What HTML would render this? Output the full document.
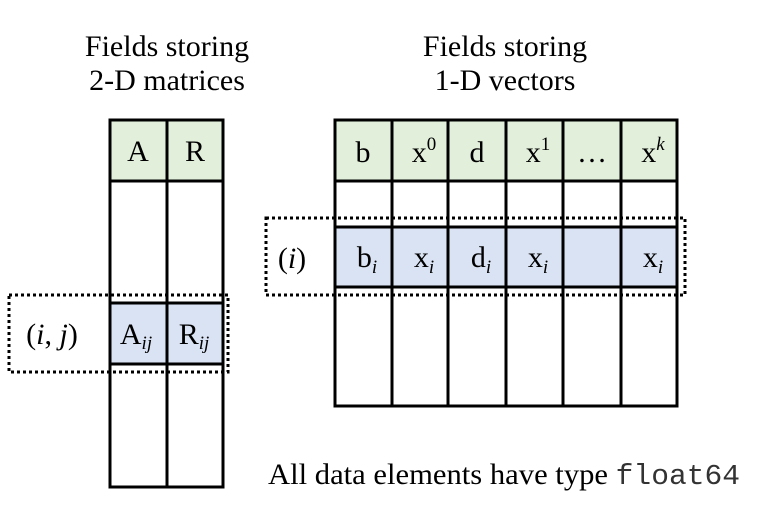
<!DOCTYPE html>
<html><head><style>body{margin:0;background:#fff}</style></head><body>
<svg width="771" height="522" xmlns="http://www.w3.org/2000/svg" font-family="Liberation Serif, serif" font-size="30">
<rect width="771" height="522" fill="#fff"/>
<text x="167" y="56" text-anchor="middle">Fields storing</text>
<text x="167" y="90" text-anchor="middle">2-D matrices</text>
<text x="505" y="56" text-anchor="middle">Fields storing</text>
<text x="505" y="90" text-anchor="middle">1-D vectors</text>
<rect x="110" y="120" width="113" height="61" fill="#e2efda"/>
<rect x="110" y="303" width="113" height="61" fill="#dae3f3"/>
<g stroke="#000" stroke-width="3" fill="none">
<rect x="110" y="120" width="113" height="367"/>
<line x1="167" y1="120" x2="167" y2="487"/>
<line x1="110" y1="181" x2="223" y2="181"/>
<line x1="110" y1="303" x2="223" y2="303"/>
<line x1="110" y1="364" x2="223" y2="364"/>
</g>
<rect x="9" y="295" width="219" height="77" fill="none" stroke="#000" stroke-width="3" stroke-dasharray="3,3"/>
<text x="138" y="161" text-anchor="middle">A</text>
<text x="195" y="161" text-anchor="middle">R</text>
<text x="136" y="344" text-anchor="middle">A<tspan font-size="19" font-style="italic" dy="5">ij</tspan></text>
<text x="194" y="344" text-anchor="middle">R<tspan font-size="19" font-style="italic" dy="5">ij</tspan></text>
<text x="52" y="344" text-anchor="middle">(<tspan font-style="italic">i</tspan>, <tspan font-style="italic">j</tspan>)</text>
<rect x="335" y="120" width="342" height="61" fill="#e2efda"/>
<rect x="335" y="227" width="342" height="60" fill="#dae3f3"/>
<g stroke="#000" stroke-width="3" fill="none">
<rect x="335" y="120" width="342" height="286"/>
<line x1="392" y1="120" x2="392" y2="406"/>
<line x1="448" y1="120" x2="448" y2="406"/>
<line x1="506" y1="120" x2="506" y2="406"/>
<line x1="563" y1="120" x2="563" y2="406"/>
<line x1="621" y1="120" x2="621" y2="406"/>
<line x1="335" y1="181" x2="677" y2="181"/>
<line x1="335" y1="227" x2="677" y2="227"/>
<line x1="335" y1="287" x2="677" y2="287"/>
</g>
<rect x="266" y="218" width="419" height="77" fill="none" stroke="#000" stroke-width="3" stroke-dasharray="3,3"/>
<text x="363" y="162" text-anchor="middle">b</text>
<text x="424" y="162" text-anchor="middle">x<tspan font-size="19" dy="-12">0</tspan></text>
<text x="477" y="162" text-anchor="middle">d</text>
<text x="538" y="162" text-anchor="middle">x<tspan font-size="19" dy="-12">1</tspan></text>
<text x="592" y="162" text-anchor="middle">…</text>
<text x="653" y="162" text-anchor="middle">x<tspan font-size="19" font-style="italic" dy="-12">k</tspan></text>
<text x="367" y="267" text-anchor="middle">b<tspan font-size="19" font-style="italic" dy="6">i</tspan></text>
<text x="424" y="267" text-anchor="middle">x<tspan font-size="19" font-style="italic" dy="6">i</tspan></text>
<text x="481" y="267" text-anchor="middle">d<tspan font-size="19" font-style="italic" dy="6">i</tspan></text>
<text x="538" y="267" text-anchor="middle">x<tspan font-size="19" font-style="italic" dy="6">i</tspan></text>
<text x="653" y="267" text-anchor="middle">x<tspan font-size="19" font-style="italic" dy="6">i</tspan></text>
<text x="292" y="268" text-anchor="middle">(<tspan font-style="italic">i</tspan>)</text>
<text x="268" y="484" textLength="472" lengthAdjust="spacingAndGlyphs">All data elements have type <tspan font-family="Liberation Mono, monospace" font-size="29" fill="#333">float64</tspan></text>
</svg>
</body></html>
